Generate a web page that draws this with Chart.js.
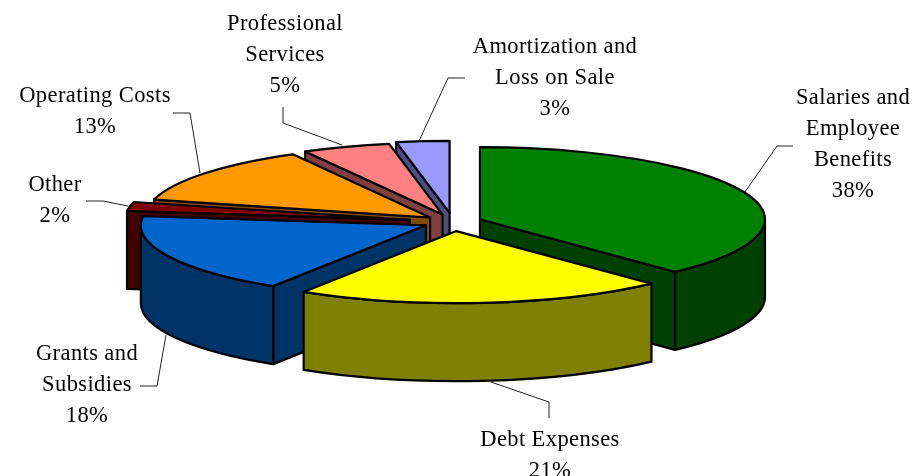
<!DOCTYPE html>
<html>
<head>
<meta charset="utf-8">
<style>
html,body{margin:0;padding:0;background:#fff;}
#wrap{position:relative;width:913px;height:476px;}
</style>
<script src="https://cdn.jsdelivr.net/npm/chart.js@4"></script>
</head>
<body>
<div id="wrap"><canvas id="c" width="913" height="476"></canvas></div>
<script>
const categories = ['Salaries and Employee Benefits','Debt Expenses','Grants and Subsidies','Other','Operating Costs','Professional Services','Amortization and Loss on Sale'];
const shares = [38, 21, 18, 2, 13, 5, 3];
const topColors = ['#008000','#FFFF00','#0066CC','#800000','#FF9900','#FF8080','#9999FF'];
const sideColors = ['#004000','#808000','#003366','#400000','#804D00','#804040','#4D4D80'];
const explode = [29, 36, 30, 44, 29, 31, 36];
const labelLines = [
  ['Salaries and','Employee','Benefits','38%'],
  ['Debt Expenses','21%'],
  ['Grants and','Subsidies','18%'],
  ['Other','2%'],
  ['Operating Costs','13%'],
  ['Professional','Services','5%'],
  ['Amortization and','Loss on Sale','3%']
];
const labelAnchors = [[853,98],[550,440],[87,354],[55,185],[95,96],[285,24],[555,47]];
const leaders = [
  [[745,192],[777,146],[793,146]],
  [[485,380],[549,402],[549,418]],
  [[166,335],[157,386],[140,386]],
  [[128,206],[103,201],[86,201]],
  [[200,173],[190,113],[173,113]],
  [[342,145],[283,123],[283,107]],
  [[419,141],[448,78],[465,78]]
];
const paintOrder = [6,5,0,4,3,2,1];
const TILT = 0.253, DEPTH = 78, EDGE = 2.2;

const pie3d = {
  id:'pie3d',
  beforeDatasetsDraw(chart){
    const ctx = chart.ctx;
    const arcs = chart.getDatasetMeta(0).data;
    ctx.save();
    ctx.lineJoin = 'round';
    ctx.lineWidth = EDGE;
    ctx.strokeStyle = '#000';
    const paint = (fill)=>{ctx.fillStyle=fill;ctx.fill();ctx.stroke();};
    for(const i of paintOrder){
      const arc = arcs[i];
      const {x,y,startAngle:s,endAngle:e,outerRadius:r} = arc.getProps(['x','y','startAngle','endAngle','outerRadius'],true);
      const off = arc.options.offset, mid=(s+e)/2;
      const ax = x+Math.cos(mid)*off, ay = y+Math.sin(mid)*off*TILT;
      const cutFace = (a)=>{
        const px = ax+Math.cos(a)*r, py = ay+Math.sin(a)*r*TILT;
        ctx.beginPath();ctx.moveTo(ax,ay);ctx.lineTo(px,py);ctx.lineTo(px,py+DEPTH);ctx.lineTo(ax,ay+DEPTH);ctx.closePath();
        paint(sideColors[i]);
      };
      // angles run clockwise from -PI/2 at the top; only faces turned to the viewer are painted
      if(s>Math.PI/2) cutFace(s);
      if(e<Math.PI/2) cutFace(e);
      // curved front wall: the part of the rim nearest the viewer
      const a0 = Math.max(s,0), a1 = Math.min(e,Math.PI);
      if(a1>a0){
        ctx.beginPath();
        ctx.ellipse(ax,ay,r,r*TILT,0,a0,a1,false);
        ctx.ellipse(ax,ay+DEPTH,r,r*TILT,0,a1,a0,true);
        ctx.closePath();
        paint(sideColors[i]);
      }
      // top face
      ctx.beginPath();
      ctx.moveTo(ax,ay);
      ctx.ellipse(ax,ay,r,r*TILT,0,s,e,false);
      ctx.closePath();
      paint(topColors[i]);
    }
    ctx.restore();
    return false;
  },
  afterDraw(chart){
    const ctx = chart.ctx;
    ctx.save();
    ctx.strokeStyle='#222';ctx.lineWidth=1;
    for(const pts of leaders){
      ctx.beginPath();
      pts.forEach((p,k)=>k?ctx.lineTo(p[0],p[1]):ctx.moveTo(p[0],p[1]));
      ctx.stroke();
    }
    ctx.fillStyle='#000';
    ctx.font='22.5px "Liberation Serif"';
    ctx.letterSpacing='0.4px';
    ctx.textAlign='center';
    ctx.textBaseline='middle';
    labelLines.forEach((lines,i)=>{
      lines.forEach((t,k)=>ctx.fillText(t,labelAnchors[i][0],labelAnchors[i][1]+k*31));
    });
    ctx.restore();
  }
};

new Chart(document.getElementById('c'),{
  type:'pie',
  data:{labels:categories,datasets:[{data:shares,backgroundColor:topColors,offset:explode,borderWidth:0}]},
  options:{
    responsive:false,animation:false,radius:285,
    layout:{padding:{left:0,right:7,top:0,bottom:32}},
    plugins:{legend:{display:false},tooltip:{enabled:false},title:{display:false}}
  },
  plugins:[pie3d]
});
</script>
</body>
</html>
